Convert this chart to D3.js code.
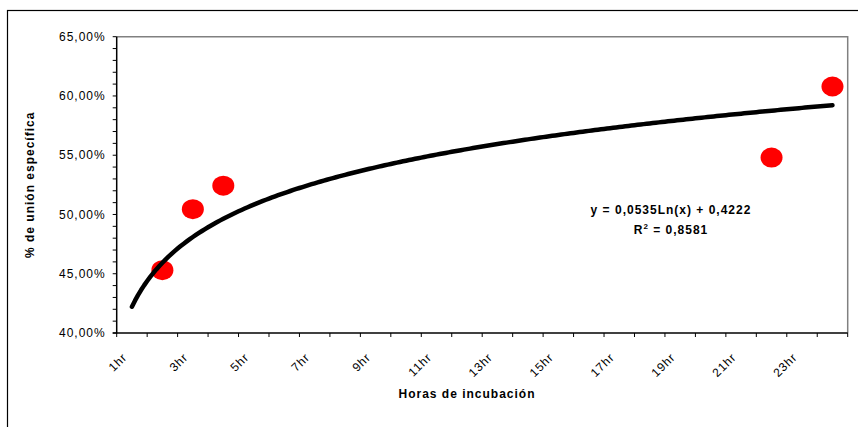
<!DOCTYPE html>
<meta charset="utf-8">
<head>
<style>
body { margin: 0; background: #fff; }
text { font-family: Arial, "Liberation Sans", sans-serif; fill: #000; }
.tick-label { font-size: 12px; letter-spacing: 1px; }
.title { font-size: 12px; font-weight: bold; letter-spacing: 1px; }
.trend { fill: none; stroke: #000; stroke-width: 4.5px; stroke-linecap: round; stroke-linejoin: round; }
</style>
</head>
<body>
<svg width="858" height="427"></svg>
<script src="https://cdn.jsdelivr.net/npm/d3@7"></script>
<script>
// categories on the x axis (hours of incubation)
var hours = d3.range(1, 25).map(function(h) { return h + "hr"; });

// measured points
var pointHours = ["2hr", "3hr", "4hr", "22hr", "24hr"];
var pointValues = [0.453, 0.5045, 0.5243, 0.548, 0.608];

// logarithmic trendline y = a*Ln(x) + b
var trendA = 0.0535,
    trendB = 0.4222;

var yTicks = [0.40, 0.45, 0.50, 0.55, 0.60, 0.65];

var svg = d3.select("svg");

// outer chart border
svg.append("rect")
    .attr("x", 7.5).attr("y", 10.5)
    .attr("width", 870).attr("height", 440)
    .attr("fill", "none").attr("stroke", "#000").attr("stroke-width", 1.2);

var pLeft = 116.7, pRight = 847.7, pTop = 36.7, pBottom = 333;

var x = d3.scaleBand()
    .domain(hours)
    .range([pLeft, pRight])
    .padding(0);

var xc = function(cat) { return x(cat) + x.bandwidth() / 2; };

var xh = d3.scaleLinear()
    .domain([1, 24])
    .range([xc("1hr"), xc("24hr")]);

var y = d3.scaleLinear()
    .domain([0.40, 0.65])
    .range([pBottom, pTop]);

var fmt = function(v) { return (v * 100).toFixed(2).replace(".", ",") + "%"; };

// plot frame: gray top / right
svg.append("path")
    .attr("d", "M" + pLeft + "," + pTop + "H" + pRight + "V" + pBottom)
    .attr("fill", "none").attr("stroke", "#808080").attr("stroke-width", 1.5);

// y axis
var yMinor = d3.range(40, 65.5, 1).map(function(v) { return v / 100; });
svg.append("g").selectAll("line")
    .data(yMinor)
  .enter().append("line")
    .attr("x1", pLeft - 4).attr("x2", pLeft)
    .attr("y1", function(d) { return y(d); })
    .attr("y2", function(d) { return y(d); })
    .attr("stroke", "#000").attr("stroke-width", 1);

svg.append("g").selectAll("text")
    .data(yTicks)
  .enter().append("text")
    .attr("class", "tick-label")
    .attr("x", pLeft - 11)
    .attr("y", function(d) { return y(d); })
    .attr("dy", "0.35em")
    .attr("text-anchor", "end")
    .text(fmt);

svg.append("line")
    .attr("x1", pLeft).attr("x2", pLeft)
    .attr("y1", pTop).attr("y2", pBottom + 0.5)
    .attr("stroke", "#000").attr("stroke-width", 1.5);

// x axis ticks at category boundaries
var edges = hours.map(function(h) { return x(h); }).concat([pRight]);
svg.append("g").selectAll("line")
    .data(edges)
  .enter().append("line")
    .attr("x1", function(d) { return d; })
    .attr("x2", function(d) { return d; })
    .attr("y1", pBottom).attr("y2", pBottom + 4)
    .attr("stroke", "#000").attr("stroke-width", 1);

svg.append("line")
    .attr("x1", pLeft - 4).attr("x2", pRight)
    .attr("y1", pBottom).attr("y2", pBottom)
    .attr("stroke", "#000").attr("stroke-width", 1.5);

svg.append("g").selectAll("text")
    .data(hours.filter(function(d, i) { return i % 2 === 0; }))
  .enter().append("text")
    .attr("class", "tick-label")
    .attr("text-anchor", "end")
    .attr("dy", "0.35em")
    .attr("transform", function(d) { return "translate(" + (xc(d) - 7) + "," + (pBottom + 22) + ") rotate(-45)"; })
    .text(function(d) { return d; });

// axis titles
svg.append("text")
    .attr("class", "title")
    .attr("text-anchor", "middle")
    .attr("transform", "translate(34," + ((pTop + pBottom) / 2) + ") rotate(-90)")
    .text("% de unión específica");

svg.append("text")
    .attr("class", "title")
    .attr("text-anchor", "middle")
    .attr("x", 467).attr("y", 398)
    .text("Horas de incubación");

// data points
svg.append("g").selectAll("ellipse")
    .data(pointValues)
  .enter().append("ellipse")
    .attr("cx", function(d, i) { return xc(pointHours[i]); })
    .attr("cy", function(d) { return y(d); })
    .attr("rx", 11).attr("ry", 10)
    .attr("fill", "#ff0000");

// trendline (drawn over the points)
var trendData = d3.range(1, 24.001, 0.1).map(function(h) {
  return {h: h, v: trendA * Math.log(h) + trendB};
});
var line = d3.line()
    .x(function(d) { return xh(d.h); })
    .y(function(d) { return y(d.v); });

svg.append("path")
    .datum(trendData)
    .attr("class", "trend")
    .attr("d", line);

// equation
svg.append("text")
    .attr("class", "title")
    .attr("text-anchor", "middle")
    .attr("x", 671).attr("y", 214)
    .text("y = 0,0535Ln(x) + 0,4222");

var r2 = svg.append("text")
    .attr("class", "title")
    .attr("text-anchor", "middle")
    .attr("x", 671).attr("y", 234);
r2.append("tspan").text("R");
r2.append("tspan").attr("dy", -5).attr("font-size", "8px").text("2");
r2.append("tspan").attr("dy", 5).text(" = 0,8581");
</script>
</body>
</html>
